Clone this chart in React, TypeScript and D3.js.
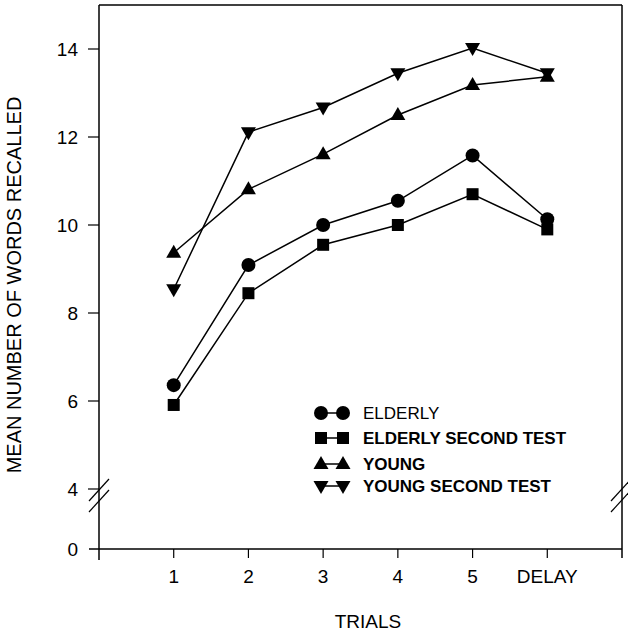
import React from "react";
import * as d3 from "d3";

// trials on the x axis (6 = delayed recall)
const trials = [1, 2, 3, 4, 5, 6];
const trialLabels = ["1", "2", "3", "4", "5", "DELAY"];

const elderly = [6.36, 9.09, 10.0, 10.55, 11.58, 10.13];
const elderlySecond = [5.91, 8.45, 9.55, 10.0, 10.7, 9.9];
const young = [9.37, 10.81, 11.61, 12.5, 13.18, 13.37];
const youngSecond = [8.54, 12.11, 12.67, 13.45, 14.02, 13.45];

const yTicks = [4, 6, 8, 10, 12, 14];

const seriesNames = ["ELDERLY", "ELDERLY SECOND TEST", "YOUNG", "YOUNG SECOND TEST"];
const seriesValues = [elderly, elderlySecond, young, youngSecond];
const seriesShapes = ["circle", "square", "up", "down"];

const W = 628;
const H = 634;
const left = 99;
const right = 622;
const top = 5;
const bottom = 549;
const font = "'Liberation Sans', Arial, sans-serif";

function Marker({ shape, x, y }: { shape: string; x: number; y: number }) {
  if (shape === "circle") return <circle cx={x} cy={y} r={7} fill="#000" />;
  if (shape === "square") return <rect x={x - 6} y={y - 6} width={12} height={12} fill="#000" />;
  if (shape === "up")
    return <path d={`M${x},${y - 8}L${x + 7.5},${y + 5}L${x - 7.5},${y + 5}Z`} fill="#000" />;
  return <path d={`M${x},${y + 8}L${x + 7.5},${y - 5}L${x - 7.5},${y - 5}Z`} fill="#000" />;
}

export default function App() {
  const x = d3.scaleLinear().domain([0, 7]).range([left, right]);
  const y = d3.scaleLinear().domain([4, 15]).range([489, top]);
  const yZero = bottom;

  const line = d3
    .line<number>()
    .x((_, i) => x(trials[i]))
    .y((d) => y(d));

  const legendRows = [413, 438, 464, 486];

  return (
    <svg
      width={W}
      height={H}
      style={{ position: "absolute", left: 0, top: 0, background: "#fff" }}
      fontFamily={font}
    >
      {/* frame */}
      <line x1={left} y1={top} x2={right} y2={top} stroke="#000" strokeWidth={1.5} />
      <line x1={left} y1={top} x2={left} y2={bottom + 11} stroke="#000" strokeWidth={1.5} />
      <line x1={right} y1={top} x2={right} y2={bottom + 9} stroke="#000" strokeWidth={1.5} />
      <line x1={left - 10} y1={bottom} x2={right} y2={bottom} stroke="#000" strokeWidth={1.5} />

      {/* axis breaks */}
      {[left, right - 1].map((bx) =>
        [0, 11].map((off) => (
          <line
            key={`${bx}-${off}`}
            x1={bx - 10}
            y1={501 + off}
            x2={bx + 10}
            y2={479 + off}
            stroke="#000"
            strokeWidth={1.2}
          />
        ))
      )}

      {/* y ticks */}
      {yTicks.map((t) => (
        <g key={t}>
          <line x1={left - 11} x2={left} y1={y(t)} y2={y(t)} stroke="#000" strokeWidth={1.2} />
          <text x={78} y={y(t) + 7} textAnchor="end" fontSize={19}>
            {t}
          </text>
        </g>
      ))}
      <text x={78} y={yZero + 7} textAnchor="end" fontSize={19}>
        0
      </text>

      {/* x ticks */}
      {trials.map((t, i) => (
        <g key={t}>
          <line x1={x(t)} x2={x(t)} y1={bottom} y2={bottom + 9} stroke="#000" strokeWidth={1.2} />
          <text x={x(t)} y={583} textAnchor="middle" fontSize={19}>
            {trialLabels[i]}
          </text>
        </g>
      ))}

      {/* axis titles */}
      <text x={368} y={628} textAnchor="middle" fontSize={19}>
        TRIALS
      </text>
      <text
        transform="translate(21,285) rotate(-90)"
        textAnchor="middle"
        fontSize={20}
      >
        MEAN NUMBER OF WORDS RECALLED
      </text>

      {/* series */}
      {seriesValues.map((vals, s) => (
        <g key={seriesNames[s]}>
          <path d={line(vals) || ""} fill="none" stroke="#000" strokeWidth={1.5} />
          {vals.map((v, i) => (
            <Marker key={i} shape={seriesShapes[s]} x={x(trials[i])} y={y(v)} />
          ))}
        </g>
      ))}

      {/* legend */}
      {seriesNames.map((name, s) => (
        <g key={name}>
          <line x1={321} x2={343} y1={legendRows[s]} y2={legendRows[s]} stroke="#000" strokeWidth={1.5} />
          <Marker shape={seriesShapes[s]} x={321} y={legendRows[s]} />
          <Marker shape={seriesShapes[s]} x={343} y={legendRows[s]} />
          <text
            x={363}
            y={legendRows[s] + 6}
            fontSize={17}
            fontWeight={s === 0 ? "normal" : "bold"}
          >
            {name}
          </text>
        </g>
      ))}
    </svg>
  );
}
